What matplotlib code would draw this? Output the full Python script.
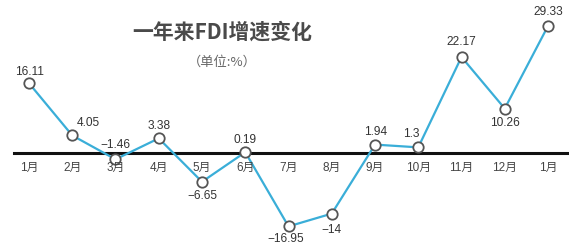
import matplotlib
matplotlib.use("Agg")
import matplotlib.pyplot as plt

plt.rcParams['font.family'] = ['Liberation Sans', 'Noto Sans CJK SC', 'DejaVu Sans']

# 数据
months = ['1月', '2月', '3月', '4月', '5月', '6月', '7月', '8月', '9月', '10月', '11月', '12月', '1月']
values = [16.11, 4.05, -1.46, 3.38, -6.65, 0.19, -16.95, -14, 1.94, 1.3, 22.17, 10.26, 29.33]
labels = [f"{v:g}".replace('-', '−') for v in values]

# 标签偏移 (像素)
offsets = [(0, 11), (16, 12), (0, 14), (0, 12), (0, -14), (0, 12),
           (-3, -13), (0, -16), (1, 13), (-7, 13), (0, 15), (0, -14), (0, 14)]

fig = plt.figure(figsize=(5.69, 2.48), dpi=100)
ax = fig.add_axes([0, 0, 1, 1])
ax.set_xlim(-0.6705, 12.4855)
ax.set_ylim(-21.94, 35.33)
ax.axis('off')

x = list(range(len(values)))
ax.axhline(0, xmin=0.0246, xmax=0.998, color='#111111', lw=2.2, zorder=1)
ax.plot(x, values, color='#3aaed8', lw=1.6, zorder=2)
ax.plot(x, values, 'o', ms=7.5, mfc='white', mec='#555555', mew=1.3, zorder=3)

for xi, v, lab, (dx, dy) in zip(x, values, labels, offsets):
    ax.annotate(lab, (xi, v), xytext=(dx, dy), textcoords='offset pixels',
                ha='center', va='center', fontsize=8.6, color='#333333', zorder=4)

for xi, m in zip(x, months):
    ax.annotate(m, (xi, 0), xytext=(0, -15), textcoords='offset pixels',
                ha='center', va='center', fontsize=8.5, color='#444444',
                family=['Liberation Sans', 'Noto Sans CJK SC'], weight='medium')

fig.text(222 / 569, 1 - 32 / 248, '一年来FDI增速变化', ha='center', va='center',
         fontsize=15, weight='bold', color='#4a4a4a',
         family=['Noto Sans CJK SC', 'DejaVu Sans'])
fig.text(222 / 569, 1 - 62 / 248, '（单位:%）', ha='center', va='center',
         fontsize=9.5, color='#666666', family=['Noto Sans CJK SC', 'DejaVu Sans'])

fig.savefig('out.png', dpi=100)
